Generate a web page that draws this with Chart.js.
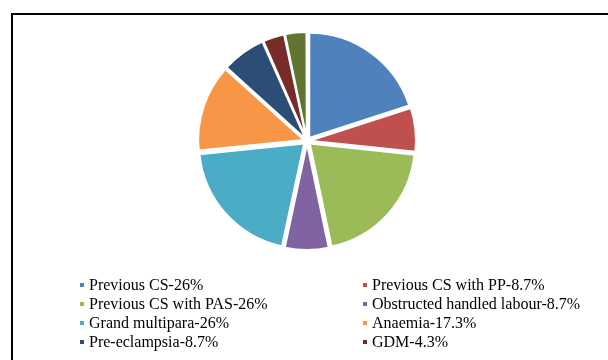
<!DOCTYPE html>
<html>
<head>
<meta charset="utf-8">
<script src="https://cdn.jsdelivr.net/npm/chart.js@4"></script>
<style>
  html, body { margin: 0; padding: 0; background: #fff; }
  #wrap { position: relative; width: 608px; height: 360px; overflow: hidden; }
  #frame { position: absolute; left: 11px; top: 13px; width: 640px; height: 400px; border: 2px solid #000; box-sizing: border-box; }
  canvas { position: absolute; left: 0; top: 0; }
  .item { position: absolute; font-family: "Liberation Serif", "Times New Roman", serif; font-size: 16px; line-height: 19px; color: #000; white-space: nowrap; }
  .item span.box { position: absolute; width: 4px; height: 4px; left: -9px; top: 8px; }
</style>
</head>
<body>
<div id="wrap">
  <div id="frame"></div>
  <canvas id="pie" width="608" height="360"></canvas>
  <div id="legend"></div>
</div>
<script>
document.addEventListener('DOMContentLoaded', () => {
    // categories and their percentages
    const categories = ['Previous CS', 'Previous CS with PP', 'Previous CS with PAS', 'Obstructed handled labour',
        'Grand multipara', 'Anaemia', 'Pre-eclampsia', 'GDM', 'Others'];
    const values = [26, 8.7, 26, 8.7, 26, 17.3, 8.7, 4.3, 4.3];
    const colors = ['#4F81BD', '#C0504D', '#9BBB59', '#8064A2', '#4BACC6', '#F79646', '#2C4D75', '#772C2A', '#5F7530'];

    // only the first 8 legend entries fit inside the picture
    const legendCount = 8;

    const labels = categories.map((c, i) => c + '-' + values[i] + '%');

    // push every slice out by about the same number of pixels
    const slicePush = 4;

    const chart = new Chart(document.getElementById('pie').getContext('2d'), {
        type: 'pie',
        data: {
            labels: labels,
            datasets: [{
                data: values,
                backgroundColor: colors,
                borderColor: '#ffffff',
                borderWidth: 2,
                radius: 105,
                offset: function(ctx) {
                    const total = values.reduce((a, b) => a + b, 0);
                    const circ = ctx.raw / total * Math.PI * 2;
                    const fix = 1 - Math.sin(Math.min(Math.PI, circ));
                    return slicePush * 4 / (1 + fix);
                }
            }]
        },
        options: {
            responsive: false,
            animation: false,
            layout: { padding: { left: 6, right: 0, top: 20, bottom: 98 } },
            plugins: {
                legend: { display: false },
                tooltip: { enabled: false }
            }
        }
    });

    // legend in two columns, filled row by row
    const legend = document.getElementById('legend');
    const colX = [89, 372];
    const firstTop = 275;
    const rowStep = 19;
    labels.slice(0, legendCount).forEach((text, i) => {
        const row = Math.floor(i / 2);
        const col = i % 2;
        const div = document.createElement('div');
        div.className = 'item';
        div.style.left = colX[col] + 'px';
        div.style.top = (firstTop + row * rowStep) + 'px';
        const box = document.createElement('span');
        box.className = 'box';
        box.style.background = colors[i];
        div.appendChild(box);
        div.appendChild(document.createTextNode(text));
        legend.appendChild(div);
    });
});
</script>
</body>
</html>
